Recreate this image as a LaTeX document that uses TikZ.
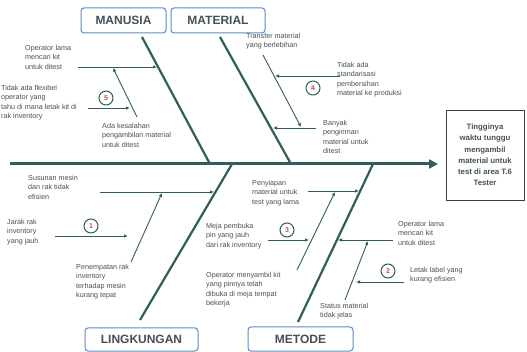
\documentclass[tikz,border=0pt]{standalone}
\usepackage{fontspec}
\setmainfont{Liberation Sans}
\usetikzlibrary{arrows.meta}
\definecolor{bone}{HTML}{2F5E5B}
\definecolor{catblue}{HTML}{5A8CCB}
\definecolor{txt}{HTML}{465057}
\definecolor{numred}{HTML}{C8503C}
\begin{document}
\begin{tikzpicture}[x=1pt,y=-1pt,
  cat/.style={draw=catblue, line width=1pt, rounded corners=3pt, fill=white,
    font=\fontsize{12}{12}\selectfont\bfseries, text=txt, inner sep=0pt},
  note/.style={font=\fontsize{7.2}{9.5}\selectfont, text=txt, align=left,
    inner sep=0pt, anchor=north west},
  headbox/.style={draw=black!75, line width=0.8pt, minimum width=78pt,
    minimum height=90pt, align=center, inner sep=0pt,
    font=\fontsize{7.8}{11.2}\selectfont\bfseries, text=txt},
  spine/.style={draw=bone, line width=3pt},
  mainbone/.style={draw=bone, line width=2.2pt},
  subbone/.style={draw=bone, line width=0.9pt},
  causearrow/.style={subbone, -{Latex[length=4pt,width=3.5pt]}},
  num/.style={circle, draw=bone, line width=1pt, minimum size=14pt, inner sep=0pt,
    fill=white, text=numred, font=\fontsize{7}{7}\selectfont\bfseries}]
\useasboundingbox (0,0) rectangle (527,352);
\fill[white] (0,0) rectangle (527,352);

% effect box and category boxes
\node[headbox] (head) at (485,155) {Tingginya\\waktu tunggu\\mengambil\\material untuk\\test di area T.6\\Tester};
\node[cat, minimum width=85pt, minimum height=25pt] (man) at (123.5,20.5) {MANUSIA};
\node[cat, minimum width=94pt, minimum height=25pt] (mat) at (218,20.5) {MATERIAL};
\node[cat, minimum width=113pt, minimum height=23pt] (lin) at (141.5,339.5) {LINGKUNGAN};
\node[cat, minimum width=105pt, minimum height=24pt] (met) at (300.5,339) {METODE};

% spine
\coordinate (tail) at (10,164);
\coordinate (tip) at (438,164);
\draw[spine, -{Triangle[length=9pt,width=9pt]}] (tail) -- (tip);

% main bones
\coordinate (manTop) at (142,37);   \coordinate (manEnd) at (210,164);
\coordinate (matTop) at (220,37);   \coordinate (matEnd) at (291,164);
\coordinate (linBot) at (140,320);  \coordinate (linEnd) at (232,164);
\coordinate (metBot) at (298,322);  \coordinate (metEnd) at (373,164);
\draw[mainbone] (manTop) -- (manEnd);
\draw[mainbone] (matTop) -- (matEnd);
\draw[mainbone] (linBot) -- (linEnd);
\draw[mainbone] (metBot) -- (metEnd);

% ---------- MANUSIA ----------
\coordinate (m1a) at (78,67);   \coordinate (m1b) at (157,67);
\draw[causearrow] (m1a) -- (m1b);
\coordinate (m2a) at (137,117); \coordinate (m2b) at (113,68);
\draw[causearrow] (m2a) -- (m2b);
\coordinate (m3a) at (88,108);  \coordinate (m3b) at (130,108);
\draw[causearrow] (m3a) -- (m3b);
\node[num] (n5) at (106,98) {5};
\node[note] (tm1) at (25,45) {Operator lama\\mencari kit\\untuk ditest};
\node[note] (tm2) at (1,85) {Tidak ada flexibel\\operator yang\\tahu di mana letak kit di\\rak inventory};
\node[note] (tm3) at (102,123) {Ada kesalahan\\pengambilan material\\untuk ditest};

% ---------- MATERIAL ----------
\coordinate (t1a) at (263,55);  \coordinate (t1b) at (301,127);
\draw[causearrow] (t1a) -- (t1b);
\coordinate (t2a) at (340,76);  \coordinate (t2b) at (275,76);
\draw[causearrow] (t2a) -- (t2b);
\coordinate (t3a) at (316,128); \coordinate (t3b) at (273,128);
\draw[causearrow] (t3a) -- (t3b);
\node[num] (n4) at (313,88) {4};
\node[note] (tt1) at (246,33) {Transfer material\\yang berlebihan};
\node[note] (tt2) at (337,62) {Tidak ada\\standarisasi\\pembersihan\\material ke produksi};
\node[note] (tt3) at (323,120) {Banyak\\pengiriman\\material untuk\\ditest};

% ---------- LINGKUNGAN ----------
\coordinate (l1a) at (100,192); \coordinate (l1b) at (214,192);
\draw[causearrow] (l1a) -- (l1b);
\coordinate (l2a) at (131,262); \coordinate (l2b) at (162,193);
\draw[causearrow] (l2a) -- (l2b);
\coordinate (l3a) at (55,236);  \coordinate (l3b) at (128,236);
\draw[causearrow] (l3a) -- (l3b);
\node[num] (n1) at (91,226) {1};
\node[note] (tl1) at (28,175) {Susunan mesin\\dan rak tidak\\efisien};
\node[note] (tl2) at (7,219) {Jarak rak\\inventory\\yang jauh};
\node[note] (tl3) at (76,264) {Penempatan rak\\inventory\\terhadap mesin\\kurang tepat};

% ---------- METODE ----------
\coordinate (e1a) at (308,191); \coordinate (e1b) at (359,191);
\draw[causearrow] (e1a) -- (e1b);
\coordinate (e2a) at (297,270); \coordinate (e2b) at (335,192);
\draw[causearrow] (e2a) -- (e2b);
\coordinate (e3a) at (268,240); \coordinate (e3b) at (309,240);
\draw[causearrow] (e3a) -- (e3b);
\coordinate (e4a) at (393,240); \coordinate (e4b) at (338,240);
\draw[causearrow] (e4a) -- (e4b);
\coordinate (e5a) at (345,300); \coordinate (e5b) at (368,241);
\draw[causearrow] (e5a) -- (e5b);
\coordinate (e6a) at (404,282); \coordinate (e6b) at (356,282);
\draw[causearrow] (e6a) -- (e6b);
\node[num] (n3) at (287,230) {3};
\node[num] (n2) at (388,271) {2};
\node[note] (te1) at (252,180) {Penyiapan\\material untuk\\test yang lama};
\node[note] (te2) at (206,223) {Meja pembuka\\pin yang jauh\\dari rak inventory};
\node[note] (te3) at (206,272) {Operator menyambil kit\\yang pinnya telah\\dibuka di meja tempat\\bekerja};
\node[note] (te4) at (398,221) {Operator lama\\mencari kit\\untuk ditest};
\node[note] (te5) at (410,267) {Letak label yang\\kurang efisien};
\node[note] (te6) at (320,303) {Status material\\tidak jelas};
\end{tikzpicture}
\end{document}
